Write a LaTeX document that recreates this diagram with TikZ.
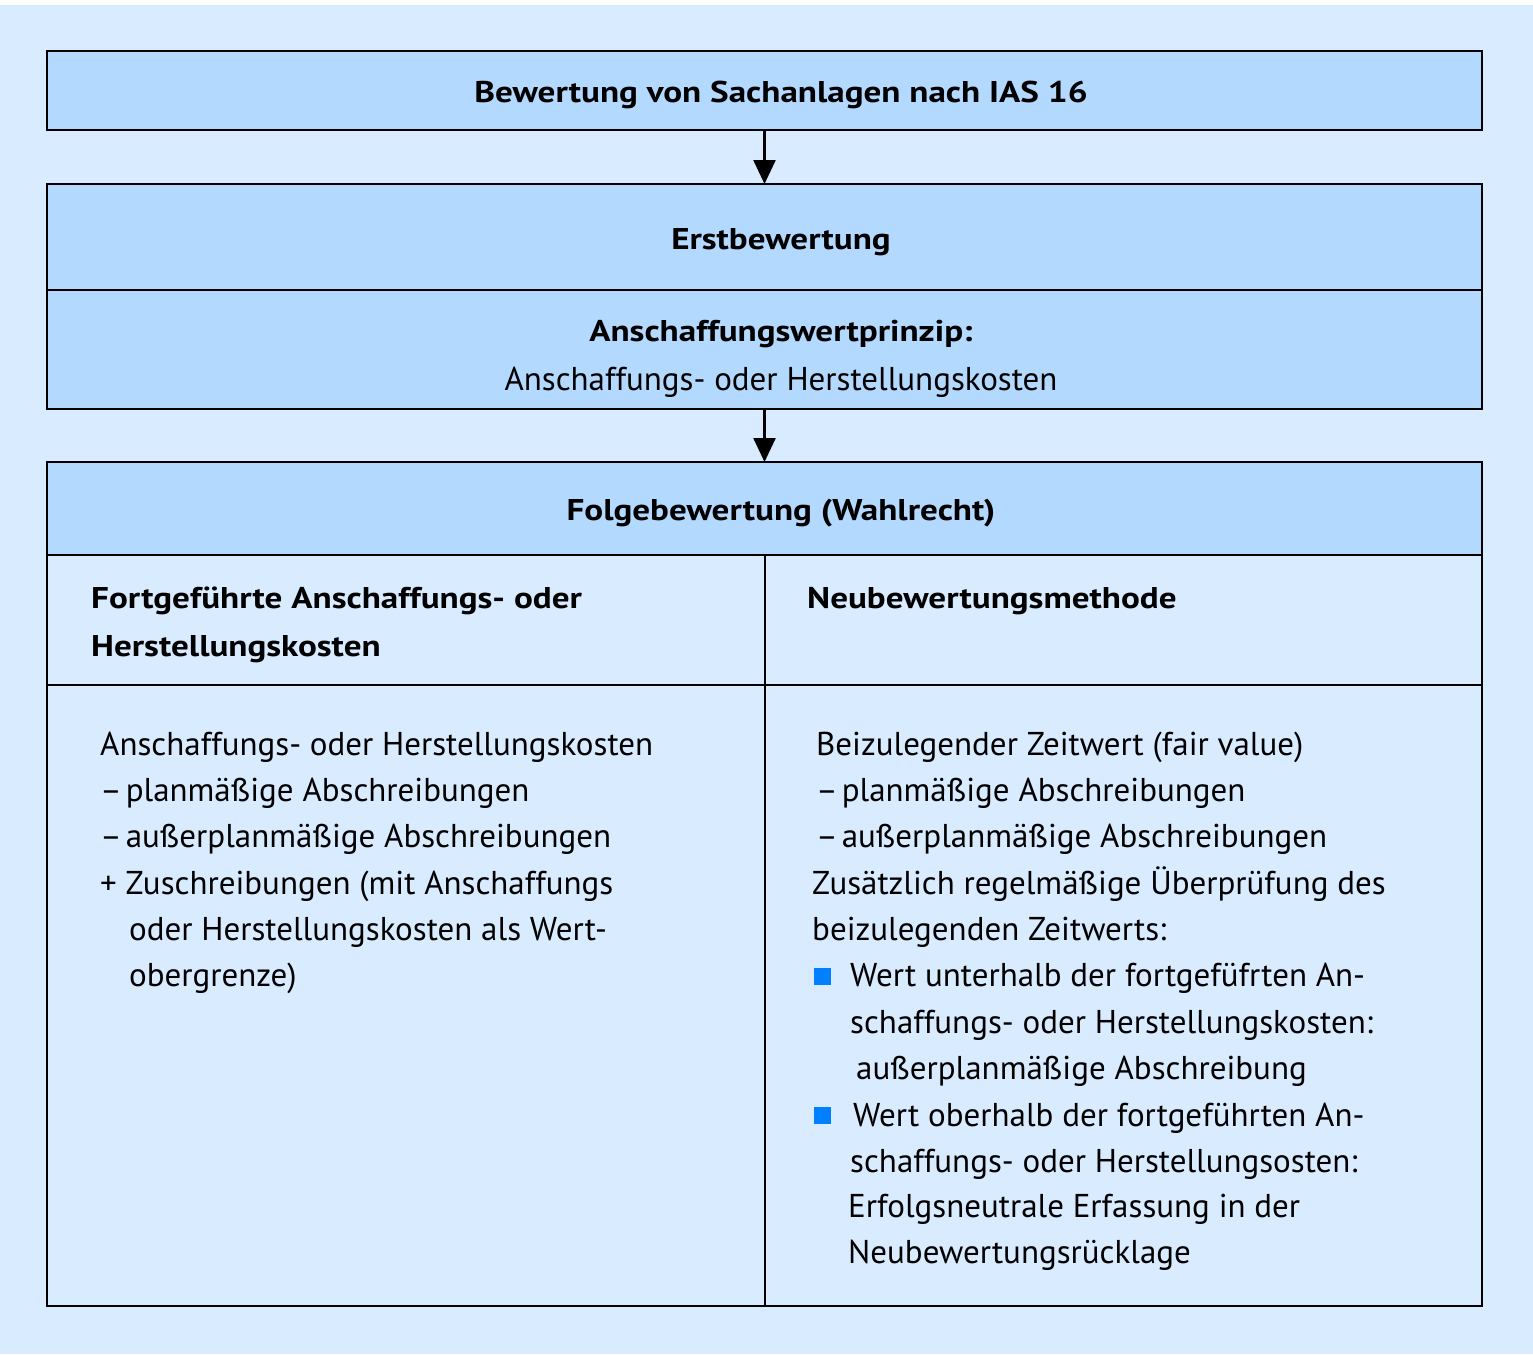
\documentclass[tikz,border=0pt]{standalone}
\usepackage{fontspec}
\setmainfont{PT Sans}[BoldFeatures={FakeStretch=1.17}]
\usetikzlibrary{arrows.meta}
\definecolor{bgblue}{HTML}{D9EBFF}
\definecolor{boxblue}{HTML}{B3D9FF}
\definecolor{bulletblue}{HTML}{0080FF}
\newcommand{\mydash}{–\kern-5pt\ }
\tikzset{
  cell/.style={draw=black, line width=2.5pt, minimum width=#1, inner sep=0pt, outer sep=0pt},
  hdr/.style={fill=boxblue},
  body/.style={fill=bgblue},
  arr/.style={line width=2.5pt, -{Triangle[width=22pt,length=24pt]}},
  txt/.style={anchor=base west, inner sep=0pt, font=\fontsize{33}{40}\selectfont},
  btxt/.style={anchor=base, inner sep=0pt, font=\fontsize{30}{36}\selectfont\bfseries},
  bltxt/.style={anchor=base west, inner sep=0pt, font=\fontsize{30}{36}\selectfont\bfseries},
  bl/.style={fill=bulletblue, minimum size=17pt, inner sep=0pt},
}
\begin{document}
\begin{tikzpicture}[x=1pt,y=-1pt]
\useasboundingbox (0,0) rectangle (1533,1354);
\fill[white] (0,0) rectangle (1533,5);
\fill[bgblue] (0,5) rectangle (1533,1354);
% boxes
\node[cell=1435pt, hdr, minimum height=79pt] (b1) at (764.5,90.5) {};
\node[cell=1435pt, hdr, minimum height=106pt] (b2a) at (764.5,237) {};
\node[cell=1435pt, hdr, minimum height=119pt] (b2b) at (764.5,349.5) {};
\node[cell=1435pt, hdr, minimum height=93pt] (b3h) at (764.5,508.5) {};
\node[cell=718pt, body, minimum height=130pt] (lh) at (406,620) {};
\node[cell=717pt, body, minimum height=130pt] (rh) at (1123.5,620) {};
\node[cell=718pt, body, minimum height=621pt] (lb) at (406,995.5) {};
\node[cell=717pt, body, minimum height=621pt] (rb) at (1123.5,995.5) {};
% arrows
\draw[arr] (b1.south) -- (b2a.north);
\draw[arr] (b2b.south) -- (b3h.north);
% headings
\node[btxt] (t1) at (781,102) {Bewertung von Sachanlagen nach IAS 16};
\node[btxt] (t2) at (781,249) {Erstbewertung};
\node[btxt] (t3) at (781,341) {Anschaffungswertprinzip:};
\node[anchor=base, inner sep=0pt, font=\fontsize{33}{40}\selectfont] (t4) at (781,390) {Anschaffungs- oder Herstellungskosten};
\node[btxt] (t5) at (781,520) {Folgebewertung (Wahlrecht)};
\node[bltxt] (l1) at (91,608) {Fortgeführte Anschaffungs- oder};
\node[bltxt] (l2) at (91,656) {Herstellungskosten};
\node[bltxt] (r1) at (807,608) {Neubewertungsmethode};
% left list
\node[txt] (la) at (100,755) {Anschaffungs- oder Herstellungskosten};
\node[txt] (lb1) at (100,801) {\mydash planmäßige Abschreibungen};
\node[txt] (lc) at (100,847) {\mydash außerplanmäßige Abschreibungen};
\node[txt] (ld) at (100,894) {+ Zuschreibungen (mit Anschaffungs};
\node[txt] (le) at (129,940) {oder Herstellungskosten als Wert-};
\node[txt] (lf) at (129,986) {obergrenze)};
% right list
\node[txt] (ra) at (816,755) {Beizulegender Zeitwert (fair value)};
\node[txt] (rb1) at (816,801) {\mydash planmäßige Abschreibungen};
\node[txt] (rc) at (816,847) {\mydash außerplanmäßige Abschreibungen};
\node[txt] (rd) at (812,894) {Zusätzlich regelmäßige Überprüfung des};
\node[txt] (re) at (812,940) {beizulegenden Zeitwerts:};
\node[bl] (bu1) at (822,976) {};
\node[txt] (rf) at (850,986) {Wert unterhalb der fortgefüfrten An-};
\node[txt] (rg) at (850,1033) {schaffungs- oder Herstellungskosten:};
\node[txt] (rh1) at (856,1079) {außerplanmäßige Abschreibung};
\node[bl] (bu2) at (822,1115) {};
\node[txt] (ri) at (853,1126) {Wert oberhalb der fortgeführten An-};
\node[txt] (rj) at (850,1172) {schaffungs- oder Herstellungsosten:};
\node[txt] (rk) at (848,1217) {Erfolgsneutrale Erfassung in der};
\node[txt] (rl) at (848,1263) {Neubewertungsrücklage};
\end{tikzpicture}
\end{document}
